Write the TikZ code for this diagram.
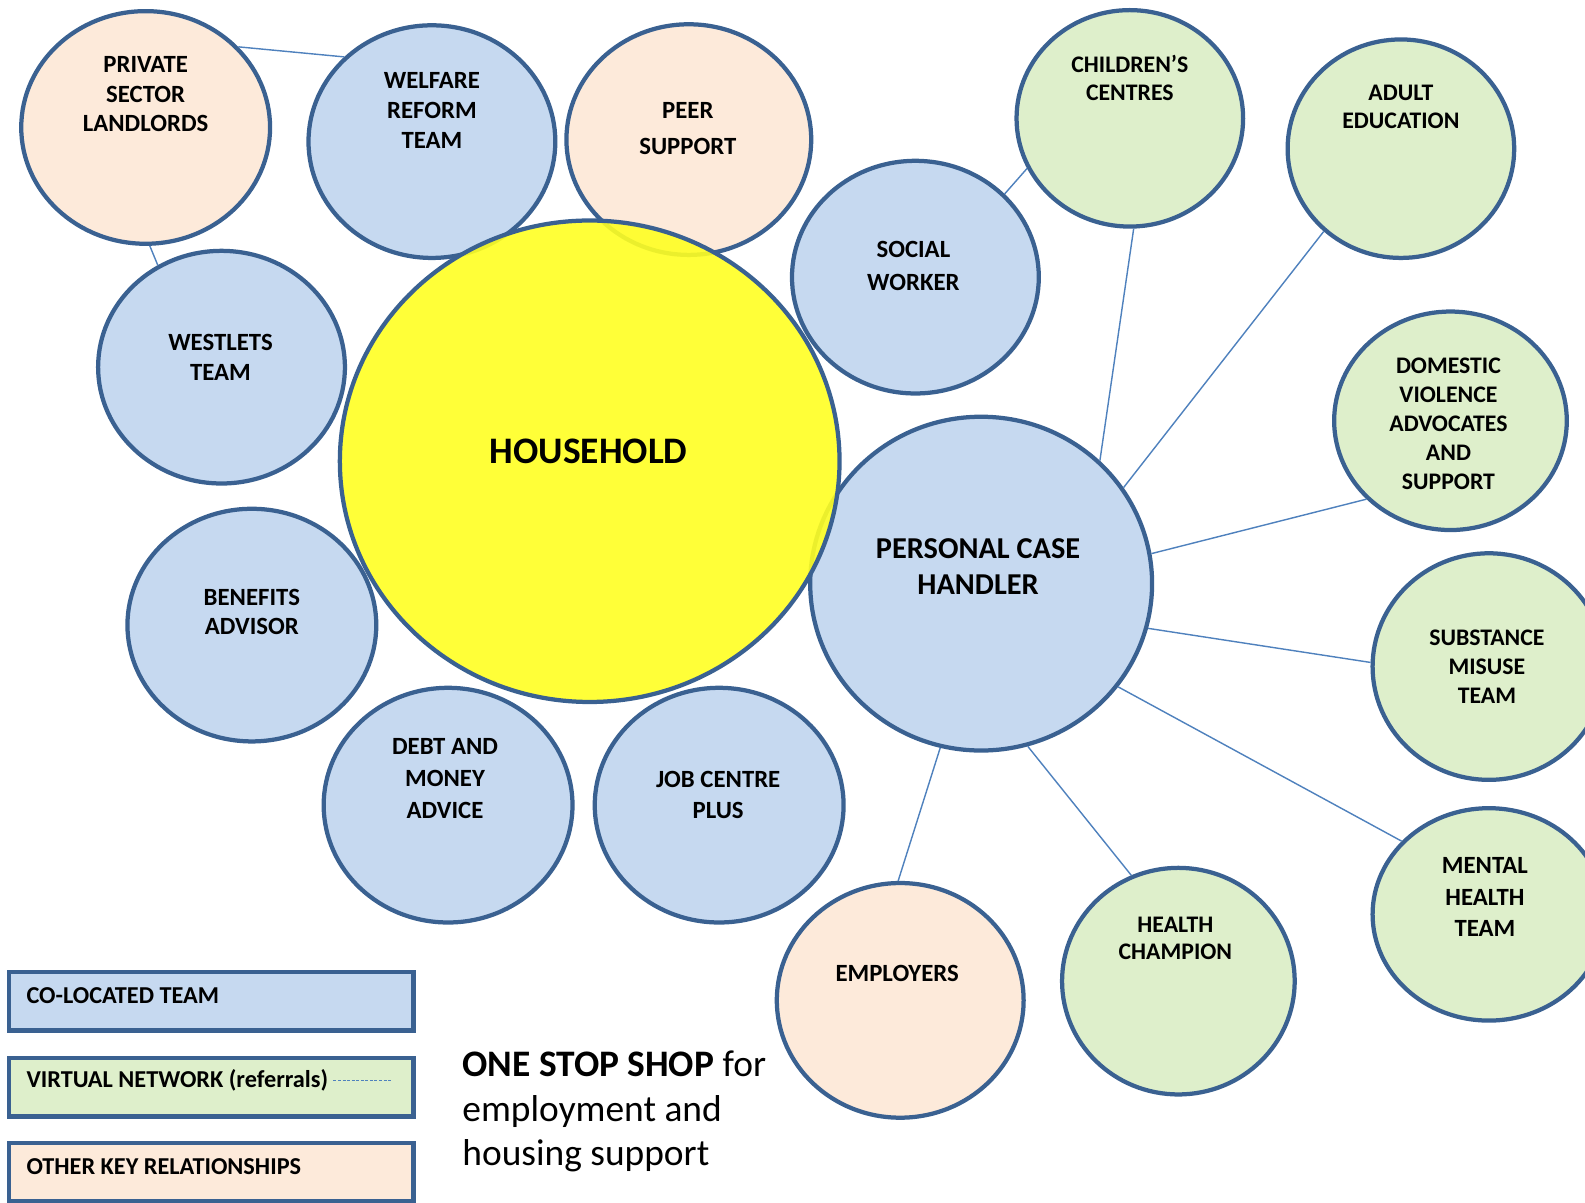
\documentclass[tikz,border=0pt]{standalone}
\usepackage{fontspec}
\setmainfont{Carlito}
\usetikzlibrary{shapes.geometric}
\definecolor{cblue}{HTML}{C6D9F0}
\definecolor{cpeach}{HTML}{FDEADA}
\definecolor{cgreen}{HTML}{DEEFCB}
\definecolor{cyel}{HTML}{FFFF22}
\definecolor{cline}{HTML}{3A6191}
\definecolor{cconn}{HTML}{4F81BD}
\tikzset{
  circ/.style={ellipse, draw=cline, line width=4.2pt, inner sep=0pt},
  bluec/.style={circ, fill=cblue},
  peachc/.style={circ, fill=cpeach},
  greenc/.style={circ, fill=cgreen},
  lbl/.style={align=center, inner sep=0pt, font=\bfseries\fontsize{24.5}{29.5}\selectfont},
  conn/.style={draw=cconn, line width=1.4pt},
  legbox/.style={draw=cline, line width=4.5pt, minimum width=400pt, minimum height=58pt, inner sep=0pt},
  legtxt/.style={anchor=west, inner sep=0pt, font=\bfseries\fontsize{24}{28}\selectfont}
}
\begin{document}
\begin{tikzpicture}[x=1pt, y=-1pt]
\useasboundingbox (0,0) rectangle (1567,1188.5);
% circles
\node[peachc, minimum width=246pt, minimum height=230pt] (psl) at (144,126) {};
\node[bluec, minimum width=244pt, minimum height=230pt] (wrt) at (427,140) {};
\node[peachc, minimum width=242pt, minimum height=228pt] (peer) at (681,138) {};
\node[bluec, minimum width=244pt, minimum height=230pt] (sw) at (905,274) {};
\node[greenc, minimum width=224pt, minimum height=214pt] (cc) at (1117,117) {};
\node[greenc, minimum width=224pt, minimum height=216pt] (ae) at (1385,147) {};
\node[greenc, minimum width=230pt, minimum height=216pt] (dv) at (1434,416) {};
\node[greenc, minimum width=230pt, minimum height=224pt] (sm) at (1472,659) {};
\node[greenc, minimum width=230pt, minimum height=210pt] (mh) at (1472,904) {};
\node[greenc, minimum width=230pt, minimum height=224pt] (hc) at (1165,970) {};
\node[peachc, minimum width=244pt, minimum height=232pt] (emp) at (890,989) {};
\node[bluec, minimum width=246pt, minimum height=232pt] (jcp) at (711,796) {};
\node[bluec, minimum width=246pt, minimum height=232pt] (dma) at (443,796) {};
\node[bluec, minimum width=246pt, minimum height=230pt] (ba) at (249,618) {};
\node[bluec, minimum width=244pt, minimum height=230pt] (wt) at (219,363) {};
\node[bluec, minimum width=338pt, minimum height=330pt] (pch) at (970,577) {};
\node[ellipse, draw=cline, line width=4.2pt, fill=cyel, fill opacity=0.9, draw opacity=1,
      minimum width=494pt, minimum height=476pt, inner sep=0pt] (hh) at (583,456) {};
% connectors
\draw[conn] (psl.41) -- (wrt.136);
\draw[conn] (psl.272) -- (wt.122);
\draw[conn] (sw.43) -- (cc.206);
\draw[conn] (pch.46) -- (cc.272);
\draw[conn] (pch.34) -- (ae.227);
\draw[conn] (pch.10) -- (dv.223);
\draw[conn] (pch.-15) -- (sm.178);
\draw[conn] (pch.-37) -- (mh.140);
\draw[conn] (pch.-74) -- (hc.114);
\draw[conn] (pch.-104) -- (emp.91);
% labels
\node[lbl] (tpsl) at (144,93) {PRIVATE\\SECTOR\\LANDLORDS};
\node[lbl] (twrt) at (427,109) {WELFARE\\REFORM\\TEAM};
\node[lbl, font=\bfseries\fontsize{24.5}{35}\selectfont] (tpeer) at (680,127) {PEER\\SUPPORT};
\node[lbl] (twt) at (218,353) {WESTLETS\\TEAM};
\node[lbl] (tba) at (249,605) {BENEFITS\\ADVISOR};
\node[lbl, font=\bfseries\fontsize{24.5}{31.5}\selectfont] (tdma) at (440,770) {DEBT AND\\MONEY\\ADVICE};
\node[lbl, font=\bfseries\fontsize{24.5}{31}\selectfont] (tjcp) at (710,786) {JOB CENTRE\\PLUS};
\node[lbl, font=\bfseries\fontsize{24.5}{32}\selectfont] (tsw) at (903,263) {SOCIAL\\WORKER};
\node[lbl, font=\bfseries\fontsize{23.5}{28}\selectfont] (tcc) at (1117,77) {CHILDREN'S\\CENTRES};
\node[lbl, font=\bfseries\fontsize{23.5}{28}\selectfont] (tae) at (1385,106) {ADULT\\EDUCATION};
\node[lbl, font=\bfseries\fontsize{23.5}{28.5}\selectfont] (tdv) at (1432,419) {DOMESTIC\\VIOLENCE\\ADVOCATES\\AND\\SUPPORT};
\node[lbl, font=\bfseries\fontsize{23.5}{29}\selectfont] (tsm) at (1470,659) {SUBSTANCE\\MISUSE\\TEAM};
\node[lbl, font=\bfseries\fontsize{24.5}{31}\selectfont] (tmh) at (1468,887) {MENTAL\\HEALTH\\TEAM};
\node[lbl, font=\bfseries\fontsize{23.5}{27}\selectfont] (thc) at (1162,928) {HEALTH\\CHAMPION};
\node[lbl] (temp) at (887,962) {EMPLOYERS};
\node[lbl, font=\bfseries\fontsize{30}{35}\selectfont] (tpch) at (967,560) {PERSONAL CASE\\HANDLER};
\node[lbl, font=\bfseries\fontsize{37}{44}\selectfont] (thh) at (582,446) {HOUSEHOLD};
% legend
\node[legbox, fill=cblue] (leg1) at (209,990) {};
\node[legbox, fill=cgreen] (leg2) at (209,1075) {};
\node[legbox, fill=cpeach] (leg3) at (209,1159) {};
\node[legtxt] (leg1t) at (26,984) {CO-LOCATED TEAM};
\node[legtxt] (leg2t) at (26,1068) {VIRTUAL NETWORK (referrals)};
\node[legtxt] (leg3t) at (26,1153) {OTHER KEY RELATIONSHIPS};
\coordinate (dsh1) at ([xshift=5pt]leg2t.east);
\coordinate (dsh2) at (388,1068);
\draw[draw=cconn, line width=1pt, dash pattern=on 3pt off 1.5pt] (dsh1) -- (dsh2 |- dsh1);
% title text
\node[anchor=north west, align=left, inner sep=0pt, font=\fontsize{37}{44}\selectfont] (title) at (457,1039)
  {\textbf{ONE STOP SHOP} for\\employment and\\housing support};
\end{tikzpicture}
\end{document}
